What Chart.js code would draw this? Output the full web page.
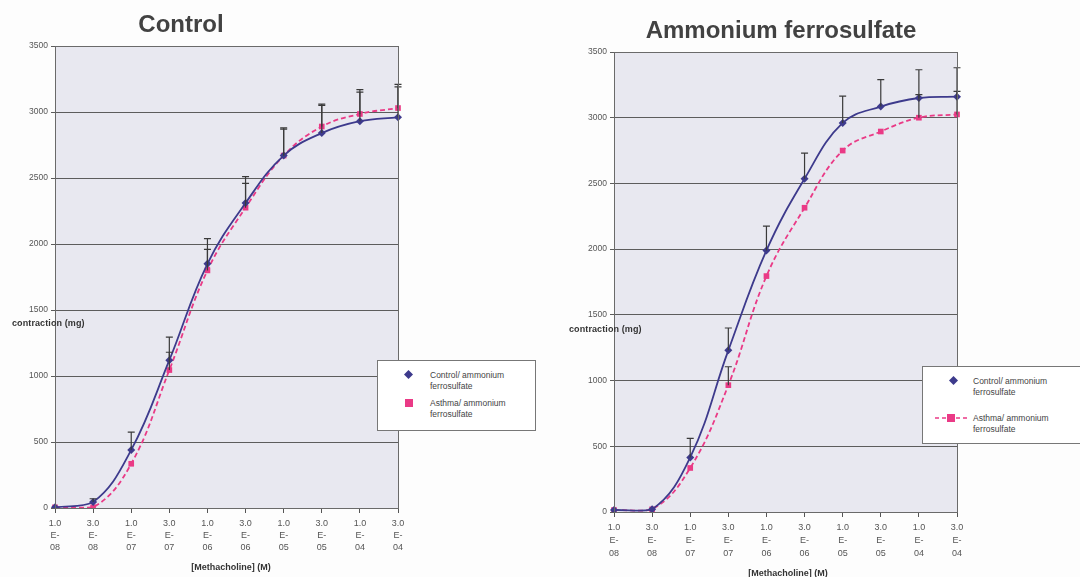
<!DOCTYPE html>
<html><head><meta charset="utf-8">
<script src="https://cdn.jsdelivr.net/npm/chart.js@4.4.0/dist/chart.umd.min.js"></script>
<style>
html,body{margin:0;padding:0;background:#fdfdfd;}
body{width:1080px;height:577px;overflow:hidden;position:relative;font-family:"Liberation Sans",Arial,sans-serif;color:#3a3a3a;}
.wrap{position:absolute;top:0;width:540px;height:577px;}
.wrap canvas{position:absolute;left:0;top:0;}
.title{position:absolute;font-weight:bold;font-size:24px;color:#424242;white-space:nowrap;transform:translate(-50%,-50%);}
.ytitle{position:absolute;font-size:9px;color:#333;white-space:nowrap;transform:translateY(-50%);font-weight:bold;letter-spacing:0.1px;}
.xtitle{position:absolute;font-size:9px;color:#333;white-space:nowrap;transform:translate(-50%,-50%);font-weight:bold;}
.legend{position:absolute;background:#fff;border:1px solid #777;box-sizing:border-box;}
.item{position:absolute;font-size:8.5px;line-height:10.5px;color:#444;}
.mk{position:absolute;}
</style>
</head><body>
<div class="wrap" id="w1" style="left:0"><canvas id="c1" width="540" height="577"></canvas></div>
<div class="wrap" id="w2" style="left:540px"><canvas id="c2" width="540" height="577"></canvas></div>

<div class="title" style="left:181px;top:24px">Control</div>
<div class="title" style="left:781px;top:30px">Ammonium ferrosulfate</div>
<div class="ytitle" style="left:12px;top:323px">contraction (mg)</div>
<div class="ytitle" style="left:569px;top:329px">contraction (mg)</div>
<div class="xtitle" style="left:231px;top:567px">[Methacholine] (M)</div>
<div class="xtitle" style="left:788px;top:573px">[Methacholine] (M)</div>

<div class="legend" style="left:377px;top:360px;width:159px;height:71px">
  <svg class="mk" style="left:26px;top:9px" width="9" height="9"><polygon points="4.5,0 9,4.5 4.5,9 0,4.5" fill="#3d3a8c"/></svg>
  <div class="item" style="left:52px;top:9px">Control/ ammonium<br>ferrosulfate</div>
  <svg class="mk" style="left:27px;top:38px" width="8" height="8"><rect x="0" y="0" width="8" height="8" fill="#ea3a86"/></svg>
  <div class="item" style="left:52px;top:37px">Asthma/ ammonium<br>ferrosulfate</div>
</div>
<div class="legend" style="left:922px;top:366px;width:170px;height:78px">
  <svg class="mk" style="left:26px;top:9px" width="9" height="9"><polygon points="4.5,0 9,4.5 4.5,9 0,4.5" fill="#3d3a8c"/></svg>
  <div class="item" style="left:50px;top:9px">Control/ ammonium<br>ferrosulfate</div>
  <svg class="mk" style="left:12px;top:47px" width="32" height="8"><line x1="0" y1="4" x2="32" y2="4" stroke="#ea3a86" stroke-width="1.5" stroke-dasharray="4,3"/><rect x="12" y="0" width="8" height="8" fill="#ea3a86"/></svg>
  <div class="item" style="left:50px;top:46px">Asthma/ ammonium<br>ferrosulfate</div>
</div>

<script>
// ---- data ----
const concLabels = [["1.0","E-","08"],["3.0","E-","08"],["1.0","E-","07"],["3.0","E-","07"],["1.0","E-","06"],["3.0","E-","06"],["1.0","E-","05"],["3.0","E-","05"],["1.0","E-","04"],["3.0","E-","04"]];
const yTicks = [0,500,1000,1500,2000,2500,3000,3500];

// Control chart
const ctrlControl = [5, 45, 440, 1120, 1850, 2310, 2670, 2840, 2930, 2960];
const ctrlControlErr = [0, 25, 135, 175, 190, 200, 210, 220, 240, 250];
const ctrlAsthma = [5, 5, 335, 1045, 1800, 2275, 2670, 2890, 2985, 3030];
const ctrlAsthmaErr = [0, 0, 0, 135, 160, 185, 200, 160, 165, 160];

// Ammonium ferrosulfate chart
const afsControl = [15, 20, 415, 1230, 1990, 2535, 2960, 3085, 3150, 3160];
const afsControlErr = [0, 0, 145, 170, 185, 195, 205, 205, 215, 220];
const afsAsthma = [15, 20, 335, 965, 1795, 2315, 2750, 2895, 3000, 3025];
const afsAsthmaErr = [0, 0, 0, 140, 0, 0, 0, 0, 175, 175];

const NAVY = '#3d3a8c';
const PINK = '#ea3a86';

const bgPlugin = {
  id: 'plotBg',
  beforeDraw(chart) {
    const {ctx, chartArea: a} = chart;
    ctx.save();
    ctx.fillStyle = '#e8e8f0';
    ctx.fillRect(a.left, a.top, a.right - a.left, a.bottom - a.top);
    ctx.restore();
  },
  afterDraw(chart) {
    const {ctx, chartArea: a} = chart;
    ctx.save();
    ctx.strokeStyle = '#6a6a6a';
    ctx.lineWidth = 1;
    ctx.strokeRect(Math.round(a.left) + 0.5, Math.round(a.top) + 0.5, Math.round(a.right - a.left), Math.round(a.bottom - a.top));
    ctx.restore();
  }
};

const errPlugin = {
  id: 'errBars',
  afterDatasetsDraw(chart) {
    const {ctx} = chart;
    const ys = chart.scales.y;
    ctx.save();
    ctx.strokeStyle = '#3a3a3a';
    ctx.lineWidth = 1.2;
    chart.data.datasets.forEach((ds, i) => {
      const meta = chart.getDatasetMeta(i);
      const errs = ds.errors || [];
      meta.data.forEach((pt, j) => {
        const e = errs[j];
        if (!e) return;
        const yTop = ys.getPixelForValue(ds.data[j] + e);
        ctx.beginPath();
        ctx.moveTo(pt.x, pt.y);
        ctx.lineTo(pt.x, yTop);
        ctx.moveTo(pt.x - 3.5, yTop);
        ctx.lineTo(pt.x + 3.5, yTop);
        ctx.stroke();
      });
    });
    ctx.restore();
  }
};

function makeChart(id, ctrl, ctrlErr, asth, asthErr, geo) {
  new Chart(document.getElementById(id), {
    type: 'line',
    data: {
      labels: concLabels,
      datasets: [
        {label: 'Control/ ammonium ferrosulfate', data: ctrl, errors: ctrlErr,
         borderColor: NAVY, backgroundColor: NAVY, borderWidth: 1.8,
         pointStyle: 'rectRot', pointRadius: 4, pointBorderWidth: 0, tension: 0.4},
        {label: 'Asthma/ ammonium ferrosulfate', data: asth, errors: asthErr,
         borderColor: PINK, backgroundColor: PINK, borderWidth: 1.8, borderDash: [5, 3],
         pointStyle: 'rect', pointRadius: 4, pointBorderWidth: 0, tension: 0.4}
      ]
    },
    options: {
      responsive: false, animation: false,
      layout: {padding: {left: 0, right: geo.right, top: geo.top, bottom: geo.bottom}},
      plugins: {legend: {display: false}, title: {display: false}, tooltip: {enabled: false}},
      scales: {
        x: {
          type: 'category', offset: false,
          grid: {display: true, drawOnChartArea: false, drawTicks: true, tickLength: 5, color: '#555'},
          border: {display: true, color: '#555'},
          ticks: {maxRotation: 0, autoSkip: false, padding: 4, color: '#555',
                  font: {family: '"Liberation Sans", Arial, sans-serif', size: 9, lineHeight: geo.lh}},
          afterFit(s) { s.height = 50; }
        },
        y: {
          min: 0, max: 3500,
          afterBuildTicks(s) { s.ticks = yTicks.map(v => ({value: v})); },
          grid: {color: '#5c5c5c', lineWidth: 1, tickLength: 4},
          border: {display: true, color: '#555'},
          ticks: {padding: 3, color: '#555', callback: v => String(v),
                  font: {family: '"Liberation Sans", Arial, sans-serif', size: 8.5}},
          afterFit(s) { s.width = geo.yw; }
        }
      }
    },
    plugins: [bgPlugin, errPlugin]
  });
}

makeChart('c1', ctrlControl, ctrlControlErr, ctrlAsthma, ctrlAsthmaErr, {right: 142, top: 46, bottom: 19, yw: 55, lh: 1.35});
makeChart('c2', afsControl, afsControlErr, afsAsthma, afsAsthmaErr, {right: 123, top: 52, bottom: 15, yw: 74, lh: 1.45});
</script>
</body></html>
